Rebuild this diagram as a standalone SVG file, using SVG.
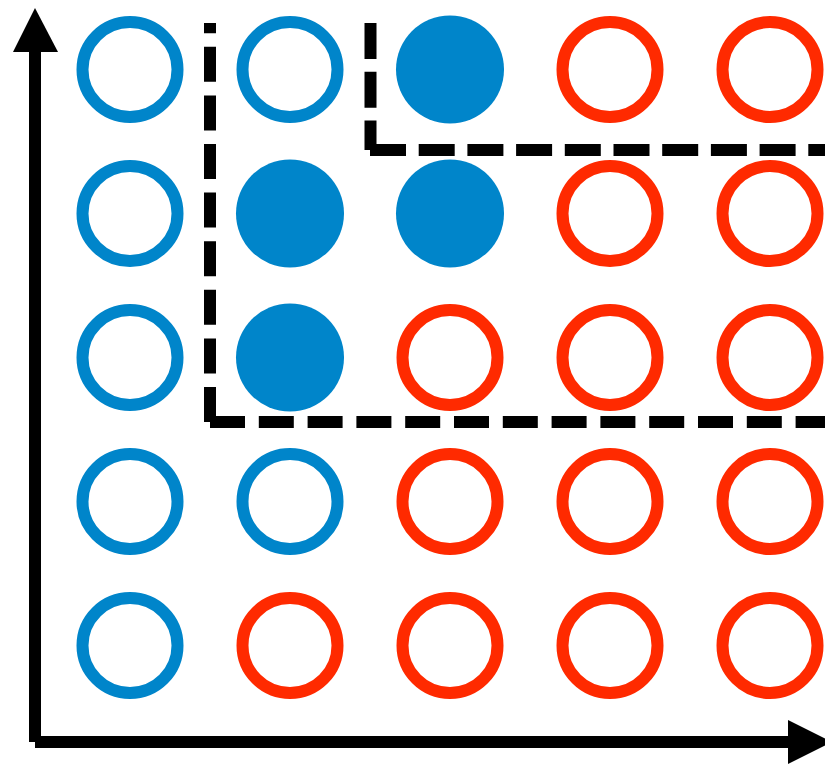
<svg xmlns="http://www.w3.org/2000/svg" width="825" height="765" viewBox="0 0 825 765">
<style>
.b{fill:none;stroke:#0085CA;stroke-width:12}
.r{fill:none;stroke:#FF2A00;stroke-width:12}
.f{fill:#0085CA}
.ax{stroke:#000;stroke-width:12;fill:none}
.d{stroke:#000;stroke-width:12;fill:none;stroke-dasharray:36 12.7}
</style>
<rect width="825" height="765" fill="#fff"/>
<g id="connectors">
<line class="ax" x1="35" y1="742" x2="35" y2="48"/>
<polygon points="35,8 13,52 58,52" fill="#000"/>
<line class="ax" x1="35" y1="742" x2="792" y2="742"/>
<polygon points="788,720 788,764 832,742" fill="#000"/>
<line class="d" x1="210" y1="422" x2="210" y2="23" style="stroke-dasharray:35 13.6"/>
<line class="d" x1="210" y1="422" x2="825" y2="422" style="stroke-dasharray:35 13.8"/>
<line class="d" x1="370.5" y1="23" x2="370.5" y2="150"/>
<line class="d" x1="370" y1="150" x2="825" y2="150"/>
</g>
<g id="row1">
<g id="n11"><circle class="b" cx="130" cy="69.5" r="47.5"/></g>
<g id="n12"><circle class="b" cx="290" cy="69.5" r="47.5"/></g>
<g id="n13"><circle class="f" cx="450" cy="69.5" r="54"/></g>
<g id="n14"><circle class="r" cx="610" cy="69.5" r="47.5"/></g>
<g id="n15"><circle class="r" cx="770" cy="69.5" r="47.5"/></g>
</g>
<g id="row2">
<g id="n21"><circle class="b" cx="130" cy="213.5" r="47.5"/></g>
<g id="n22"><circle class="f" cx="290" cy="213.5" r="54"/></g>
<g id="n23"><circle class="f" cx="450" cy="213.5" r="54"/></g>
<g id="n24"><circle class="r" cx="610" cy="213.5" r="47.5"/></g>
<g id="n25"><circle class="r" cx="770" cy="213.5" r="47.5"/></g>
</g>
<g id="row3">
<g id="n31"><circle class="b" cx="130" cy="357.5" r="47.5"/></g>
<g id="n32"><circle class="f" cx="290" cy="357.5" r="54"/></g>
<g id="n33"><circle class="r" cx="450" cy="357.5" r="47.5"/></g>
<g id="n34"><circle class="r" cx="610" cy="357.5" r="47.5"/></g>
<g id="n35"><circle class="r" cx="770" cy="357.5" r="47.5"/></g>
</g>
<g id="row4">
<g id="n41"><circle class="b" cx="130" cy="501.5" r="47.5"/></g>
<g id="n42"><circle class="b" cx="290" cy="501.5" r="47.5"/></g>
<g id="n43"><circle class="r" cx="450" cy="501.5" r="47.5"/></g>
<g id="n44"><circle class="r" cx="610" cy="501.5" r="47.5"/></g>
<g id="n45"><circle class="r" cx="770" cy="501.5" r="47.5"/></g>
</g>
<g id="row5">
<g id="n51"><circle class="b" cx="130" cy="645.5" r="47.5"/></g>
<g id="n52"><circle class="r" cx="290" cy="645.5" r="47.5"/></g>
<g id="n53"><circle class="r" cx="450" cy="645.5" r="47.5"/></g>
<g id="n54"><circle class="r" cx="610" cy="645.5" r="47.5"/></g>
<g id="n55"><circle class="r" cx="770" cy="645.5" r="47.5"/></g>
</g>
</svg>
